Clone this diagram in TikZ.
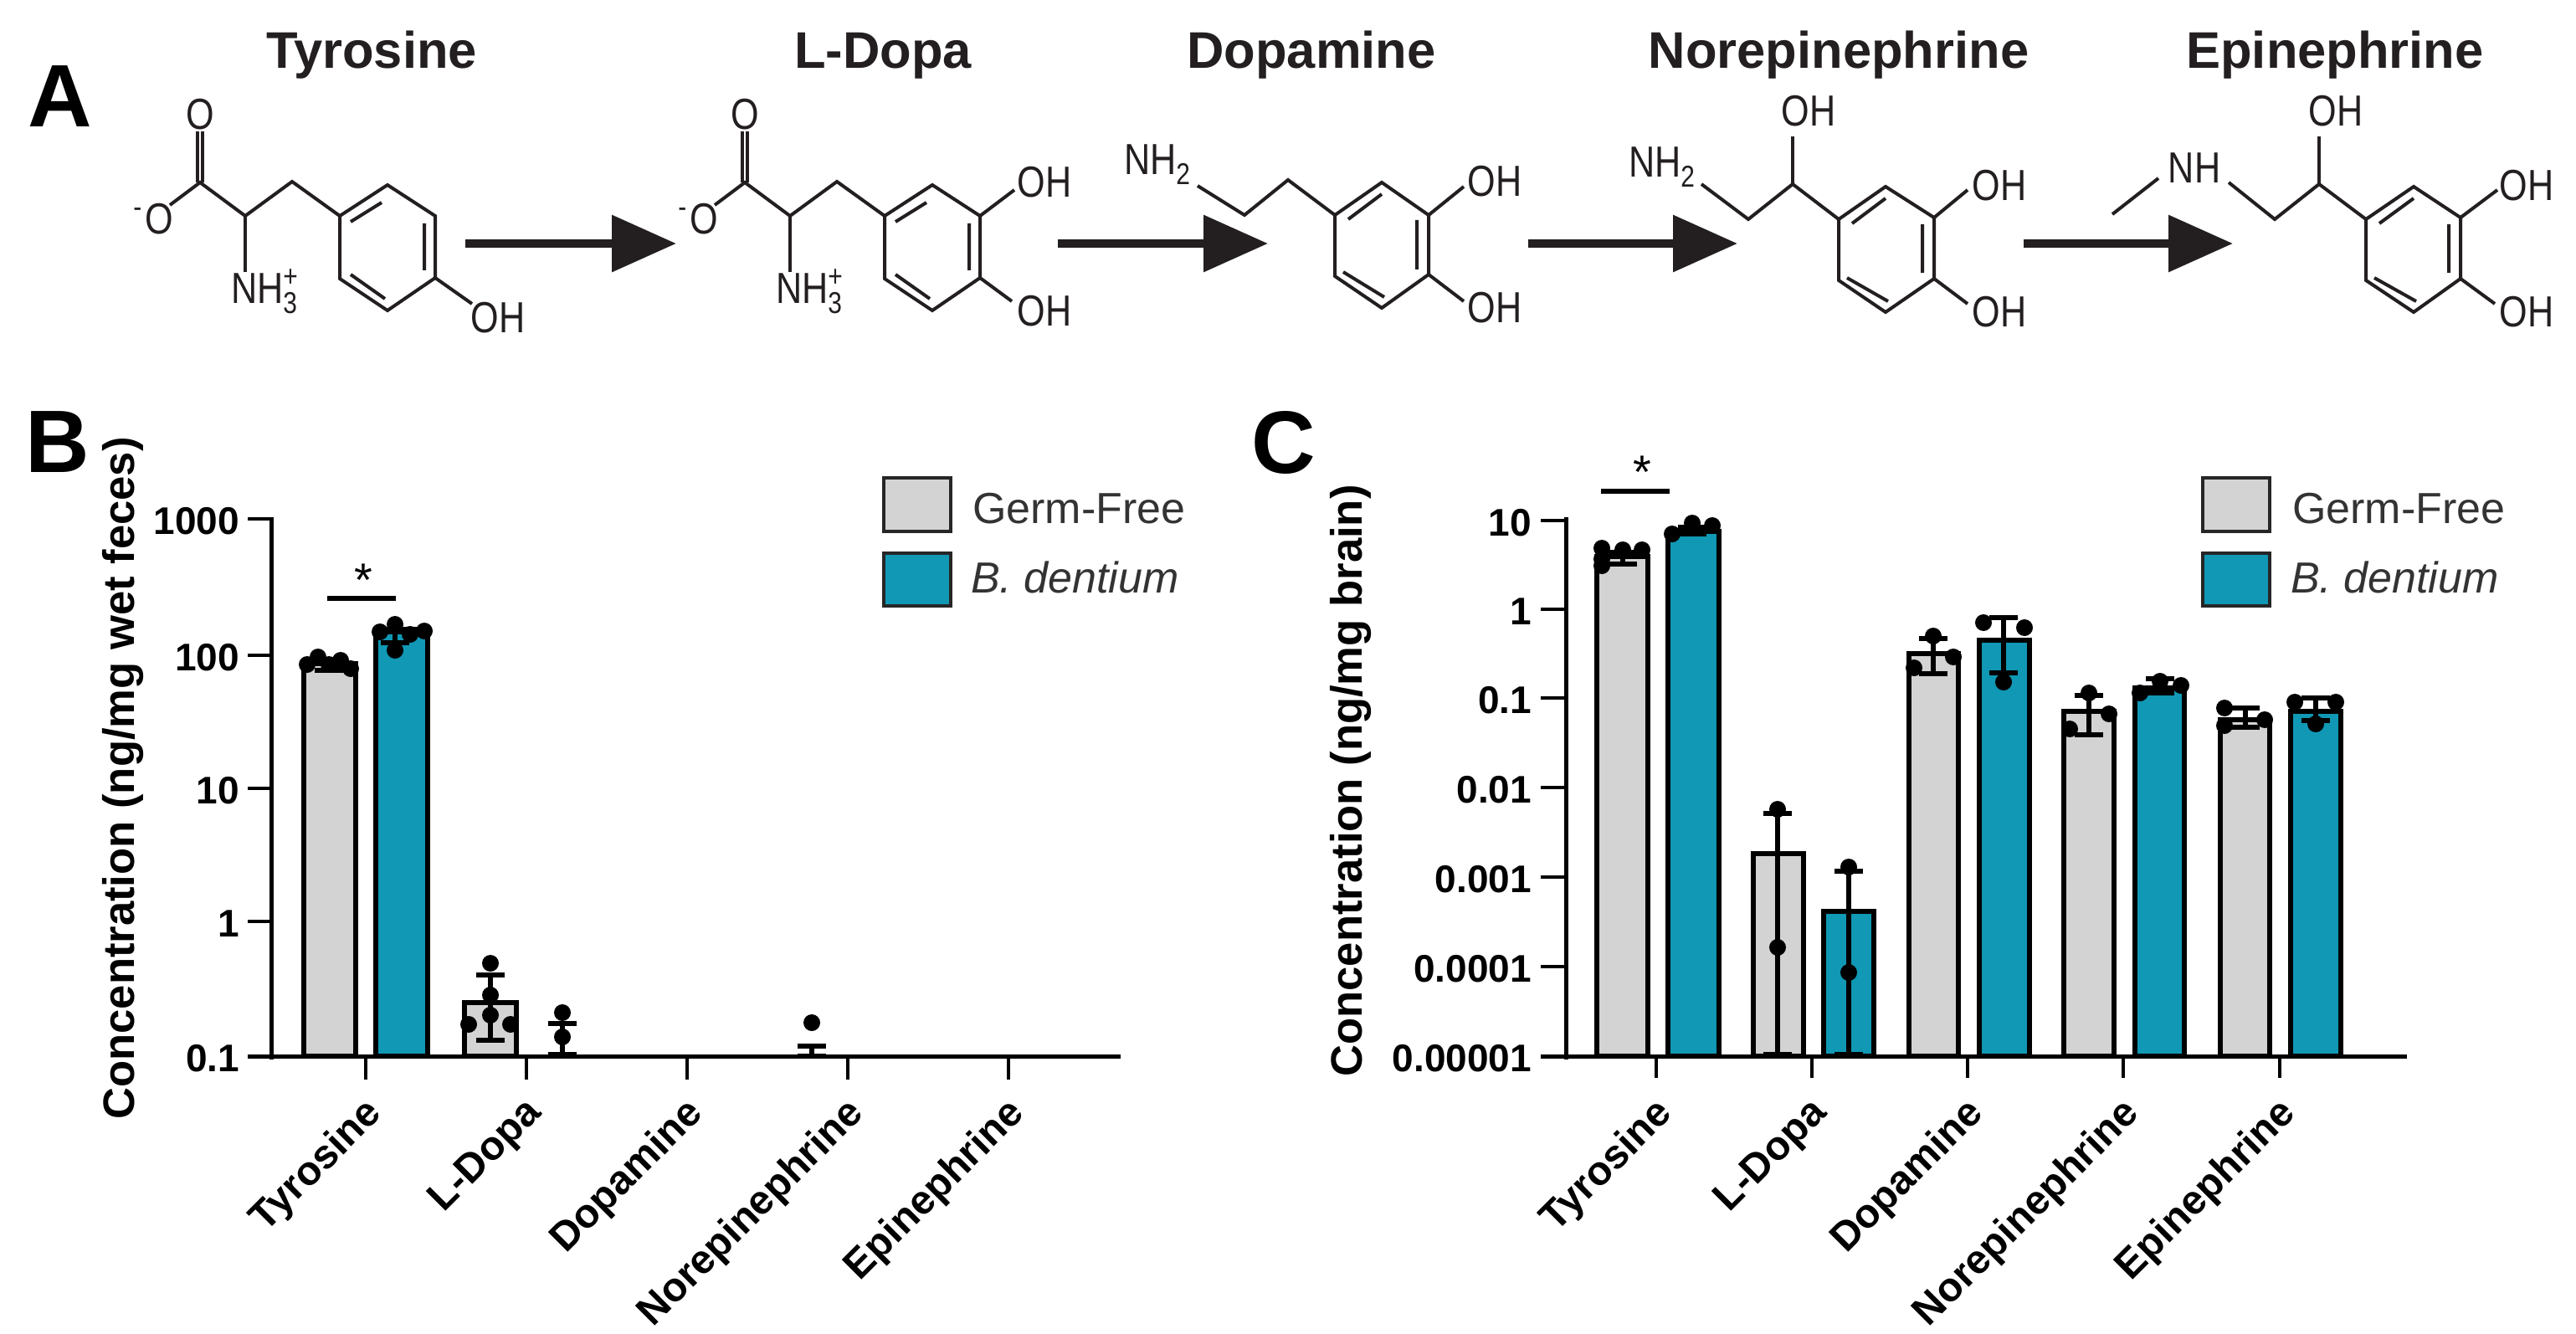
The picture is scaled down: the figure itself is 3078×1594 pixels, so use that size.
\documentclass[tikz,border=0pt]{standalone}
\usepackage{fontspec}
\setmainfont{Liberation Sans}
\usetikzlibrary{arrows.meta}
\definecolor{barg}{HTML}{D3D3D3}
\definecolor{bart}{HTML}{1098B4}
\definecolor{ink}{HTML}{231F20}
\definecolor{legtxt}{HTML}{333333}
\newcommand{\cT}[1]{\scalebox{.83}[1]{#1}}
\newcommand{\sbx}[1]{\raisebox{-12pt}{\fontsize{36}{38}\selectfont #1}}
\newcommand{\spx}[1]{\raisebox{20pt}{\fontsize{36}{38}\selectfont #1}}
\tikzset{
  x=1pt,y=-1pt,
  every node/.style={inner sep=0pt,outer sep=0pt},
  bond/.style={line width=4pt,color=ink,line join=miter},
  chem/.style={font=\fontsize{52}{56}\selectfont,text=ink},
  title/.style={font=\bfseries\fontsize{61.5}{66}\selectfont,text=ink,anchor=base},
  panel/.style={font=\bfseries\fontsize{106}{110}\selectfont,text=black,anchor=base west},
  rxn/.style={line width=10pt,color=ink,-{Triangle[length=77pt,width=66pt]}},
  axis/.style={line width=5pt,color=black,line cap=butt},
  tick/.style={line width=4pt,color=black},
  ylab/.style={font=\bfseries\fontsize{46}{50}\selectfont,anchor=east,text=black},
  xlab/.style={font=\bfseries\fontsize{48.5}{52}\selectfont,anchor=north east,rotate=45,text=black},
  axt/.style={font=\bfseries\fontsize{52.6}{56}\selectfont,rotate=90,text=black},
  gbar/.style={draw=black,line width=6pt,fill=barg},
  tbar/.style={draw=black,line width=6pt,fill=bart},
  lbox/.style={draw=black!85,line width=4.5pt},
  err/.style={line width=5.4pt,color=black},
  leg/.style={font=\fontsize{52}{56}\selectfont,text=legtxt,anchor=base west},
  star/.style={font=\fontsize{56}{60}\selectfont,text=black},
  sigline/.style={line width=6pt,color=black}
}
\newcommand{\eb}[4]{\draw[err] (#1-#4,#2) -- (#1+#4,#2) (#1,#2) -- (#1,#3) (#1-#4,#3) -- (#1+#4,#3);}
\newcommand{\pts}[1]{\foreach \px/\py in {#1} {\fill[black] (\px,\py) circle[radius=10];}}
\begin{document}
\begin{tikzpicture}
\useasboundingbox (0,0) rectangle (3078,1594);
\fill[white] (0,0) rectangle (3078,1594);
% Panel labels
\node[panel] (lA) at (33,152) {A};
\node[panel] (lB) at (30,564) {B};
\node[panel] (lC) at (1495,565) {C};
% Titles
\node[title] (t1) at (444,82) {Tyrosine};
\node[title] (t2) at (1055,82) {L-Dopa};
\node[title] (t3) at (1567,82) {Dopamine};
\node[title] (t4) at (2197,82) {Norepinephrine};
\node[title] (t5) at (2790,82) {Epinephrine};
% Reaction arrows
\coordinate (r1s) at (556,291); \coordinate (r1e) at (808,291);
\coordinate (r2s) at (1264,291); \coordinate (r2e) at (1515,291);
\coordinate (r3s) at (1826,291); \coordinate (r3e) at (2076,291);
\coordinate (r4s) at (2418,291); \coordinate (r4e) at (2668,291);
\draw[rxn] (r1s) -- (r1e);
\draw[rxn] (r2s) -- (r2e);
\draw[rxn] (r3s) -- (r3e);
\draw[rxn] (r4s) -- (r4e);
% Tyrosine
\begin{scope}
\node[chem] (tyO) at (239,137) {\cT{O}};
\draw[bond] (236,157) -- (236,218) (242,157) -- (242,218);
\node[chem,anchor=east] (tyOm) at (207,262) {\cT{\spx{-}\hspace{5pt}O}};
\draw[bond] (203,245) -- (239,218) -- (293,258) -- (349,217) -- (406,258);
\draw[bond] (293,258) -- (293,325);
\node[chem,anchor=west] (tyN) at (276,348) {\cT{NH\rlap{\sbx{3}}\spx{+}}};
\draw[bond] (406,258) -- (463,221) -- (520,258) -- (520,332) -- (463,371) -- (406,333) -- cycle;
\draw[bond] (419,265) -- (456,242) (507,267) -- (507,323) (419,328) -- (460,357);
\draw[bond] (520,332) -- (564,363);
\node[chem] (tyOH) at (595,380) {\cT{OH}};
\end{scope}
% L-Dopa
\begin{scope}[shift={(651,0)}]
\node[chem] (ldO) at (239,137) {\cT{O}};
\draw[bond] (236,157) -- (236,218) (242,157) -- (242,218);
\node[chem,anchor=east] (ldOm) at (207,262) {\cT{\spx{-}\hspace{5pt}O}};
\draw[bond] (203,245) -- (239,218) -- (293,258) -- (349,217) -- (406,258);
\draw[bond] (293,258) -- (293,325);
\node[chem,anchor=west] (ldN) at (276,348) {\cT{NH\rlap{\sbx{3}}\spx{+}}};
\draw[bond] (406,258) -- (463,221) -- (520,258) -- (520,332) -- (463,371) -- (406,333) -- cycle;
\draw[bond] (419,265) -- (456,242) (507,267) -- (507,323) (419,328) -- (460,357);
\draw[bond] (520,258) -- (561,227) (520,332) -- (558,360);
\node[chem] (ldOH1) at (597,218) {\cT{OH}};
\node[chem] (ldOH2) at (597,372) {\cT{OH}};
\end{scope}
% Dopamine
\node[chem,anchor=west] (daN) at (1343,197) {\cT{NH\sbx{2}}};
\draw[bond] (1431,222) -- (1487,257) -- (1539,215) -- (1595,257);
\draw[bond] (1595,257) -- (1651,218) -- (1707,257) -- (1707,328) -- (1651,368) -- (1595,330) -- cycle;
\draw[bond] (1611,262) -- (1651,232) (1693,263) -- (1693,322) (1605,325) -- (1654,355);
\draw[bond] (1707,257) -- (1749,223) (1707,328) -- (1749,360);
\node[chem] (daOH1) at (1786,217) {\cT{OH}};
\node[chem] (daOH2) at (1786,368) {\cT{OH}};
% Norepinephrine
\node[chem,anchor=west] (neN) at (1946,200) {\cT{NH\sbx{2}}};
\draw[bond] (2033,220) -- (2089,262) -- (2142,220) -- (2197,262);
\draw[bond] (2142,220) -- (2142,163);
\node[chem] (neOH0) at (2161,133) {\cT{OH}};
\draw[bond] (2197,262) -- (2253,223) -- (2311,260) -- (2311,333) -- (2253,373) -- (2197,335) -- cycle;
\draw[bond] (2213,267) -- (2253,237) (2297,268) -- (2297,326) (2207,332) -- (2256,360);
\draw[bond] (2311,260) -- (2351,227) (2311,333) -- (2351,363);
\node[chem] (neOH1) at (2389,222) {\cT{OH}};
\node[chem] (neOH2) at (2389,373) {\cT{OH}};
% Epinephrine
\node[chem] (epN) at (2622,201) {\cT{NH}};
\draw[bond] (2579,213) -- (2524,256);
\draw[bond] (2663,218) -- (2718,262) -- (2771,220) -- (2827,262);
\draw[bond] (2771,220) -- (2771,163);
\node[chem] (epOH0) at (2791,133) {\cT{OH}};
\draw[bond] (2827,262) -- (2884,223) -- (2940,260) -- (2940,333) -- (2884,373) -- (2827,335) -- cycle;
\draw[bond] (2843,267) -- (2884,237) (2926,268) -- (2926,326) (2837,332) -- (2887,360);
\draw[bond] (2940,260) -- (2984,227) (2940,333) -- (2981,363);
\node[chem] (epOH1) at (3019,222) {\cT{OH}};
\node[chem] (epOH2) at (3019,373) {\cT{OH}};
% ===== Panel B =====
\draw[gbar] (363,1262) rectangle (425,793);
\draw[tbar] (449,1262) rectangle (511,752);
\draw[gbar] (555,1262) rectangle (617,1198);
\eb{393}{789}{801}{17}
\eb{472}{755}{768}{17}
\eb{586}{1165}{1243}{17}
\eb{672}{1223}{1260}{17}
\eb{970}{1250}{1262}{17}
\pts{367/794,380/785,393/794,407/789,419/799}
\pts{454/755,472/746,472/777,490/758,507/754}
\pts{586/1151,586/1189,586/1213,560/1224,610/1224}
\pts{672/1210,672/1239}
\pts{970/1222}
\draw[axis] (324,618) -- (324,1266);
\draw[axis] (296,1262) -- (1339,1262);
\foreach \yy/\lab in {620/1000,783/100,942/10,1101/1,1262/0.1}{
  \draw[tick] (296,\yy) -- (324,\yy);
  \node[ylab] at (286,\yy+3) {\lab};
}
\foreach \xx/\lab in {437/Tyrosine,629/L-Dopa,821/Dopamine,1013/Norepinephrine,1205/Epinephrine}{
  \draw[tick] (\xx,1262) -- (\xx,1290);
  \node[xlab] at (\xx-4,1308) {\lab};
}
\node[axt] (yB) at (147,930) {Concentration (ng/mg wet feces)};
\coordinate (sB1) at (391,715); \coordinate (sB2) at (473,715);
\draw[sigline] (sB1) -- (sB2);
\node[star] (stB) at (434,693) {*};
\draw[lbox,fill=barg] (1056,571) rectangle (1136,635);
\draw[lbox,fill=bart] (1056,661) rectangle (1136,724);
\node[leg] (lgB1) at (1162,625) {Germ-Free};
\node[leg] (lgB2) at (1160,708) {\itshape B. dentium};
% ===== Panel C =====
\draw[gbar] (1908,1262) rectangle (1969,665);
\draw[tbar] (1993,1262) rectangle (2054,635);
\draw[gbar] (2095,1262) rectangle (2155,1020);
\draw[tbar] (2179,1262) rectangle (2239,1089);
\draw[gbar] (2281,1262) rectangle (2340,781);
\draw[tbar] (2365,1262) rectangle (2425,765);
\draw[gbar] (2466,1262) rectangle (2526,850);
\draw[tbar] (2551,1262) rectangle (2610,822);
\draw[gbar] (2653,1262) rectangle (2712,860);
\draw[tbar] (2737,1262) rectangle (2797,850);
\eb{1939}{660}{674}{17}
\eb{2022}{630}{638}{17}
\eb{2124}{972}{1260}{17}
\eb{2209}{1041}{1260}{17}
\eb{2310}{763}{805}{17}
\eb{2394}{738}{804}{17}
\eb{2496}{831}{878}{17}
\eb{2581}{811}{828}{17}
\eb{2683}{846}{869}{17}
\eb{2767}{834}{861}{17}
\pts{1914/655,1914/668,1914/676,1962/657,1939/657}
\pts{1998/638,2022/625,2046/628}
\pts{2124/967,2124/1132}
\pts{2209/1036,2209/1162}
\pts{2310/760,2287/798,2334/785}
\pts{2370/744,2419/750,2394/815}
\pts{2496/828,2473/871,2520/853}
\pts{2557/828,2581/814,2606/819}
\pts{2658/846,2658/867,2706/860}
\pts{2742/839,2791/839,2767/865}
\draw[axis] (1871,618) -- (1871,1266);
\draw[axis] (1841,1262) -- (2876,1262);
\foreach \yy/\lab in {622/10,728/1,834/0.1,941/0.01,1048/0.001,1155/0.0001,1262/0.00001}{
  \draw[tick] (1841,\yy) -- (1871,\yy);
  \node[ylab] at (1830,\yy+3) {\lab};
}
\foreach \xx/\lab in {1979/Tyrosine,2165/L-Dopa,2351/Dopamine,2537/Norepinephrine,2724/Epinephrine}{
  \draw[tick] (\xx,1262) -- (\xx,1288);
  \node[xlab] at (\xx-4,1308) {\lab};
}
\node[axt] (yC) at (1614,933) {Concentration (ng/mg brain)};
\coordinate (sC1) at (1913,587); \coordinate (sC2) at (1995,587);
\draw[sigline] (sC1) -- (sC2);
\node[star] (stC) at (1962,564) {*};
\draw[lbox,fill=barg] (2632,571) rectangle (2712,635);
\draw[lbox,fill=bart] (2632,661) rectangle (2712,724);
\node[leg] (lgC1) at (2739,625) {Germ-Free};
\node[leg] (lgC2) at (2737,708) {\itshape B. dentium};
\end{tikzpicture}
\end{document}
